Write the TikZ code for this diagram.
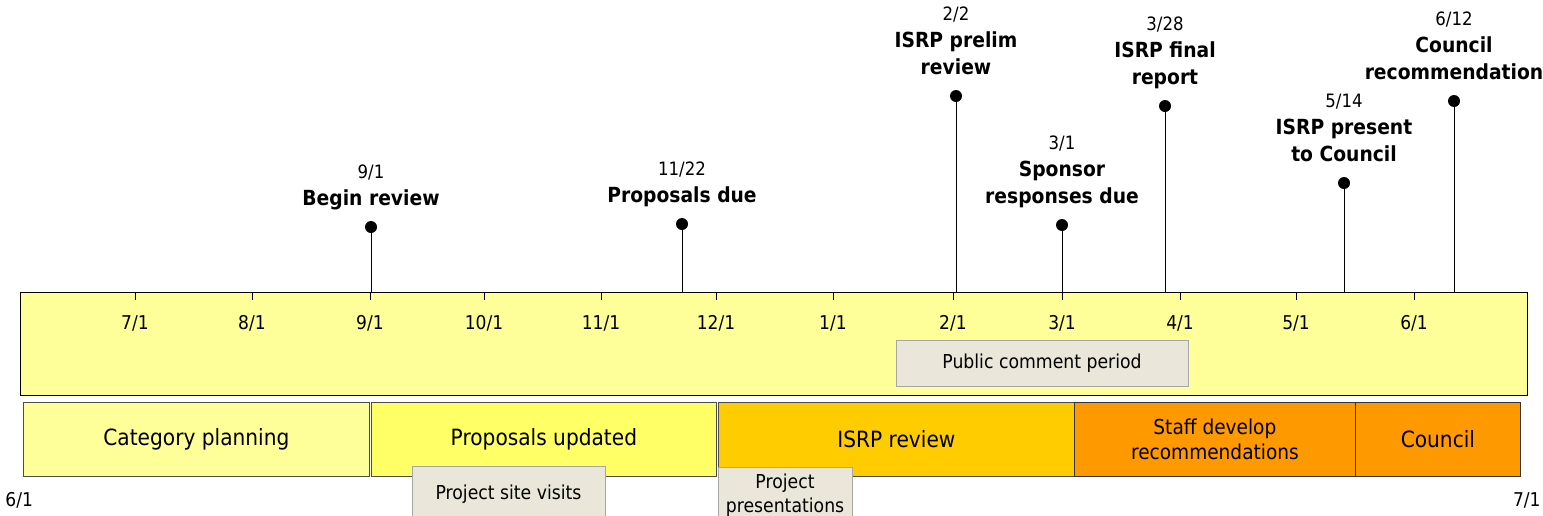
\documentclass[tikz,border=0pt]{standalone}
\usepackage{fontspec}
\setmainfont[FakeStretch=0.9]{DejaVu Sans}
\usetikzlibrary{positioning}

\definecolor{lightyel}{HTML}{FFFF99}
\definecolor{brightyel}{HTML}{FFFF66}
\definecolor{goldyel}{HTML}{FFCC00}
\definecolor{deeporange}{HTML}{FF9900}
\definecolor{notegray}{HTML}{EAE7DA}

\tikzset{
  month/.style={font=\fontsize{9.5}{11}\selectfont, inner sep=0pt},
  milestone/.style={align=center, inner sep=0pt, text depth=0pt,
    font=\fontsize{10.4}{13.5}\selectfont\bfseries},
  dot/.style={circle, fill=black, inner sep=0pt, minimum size=6pt},
  stage/.style={draw=gray!60!black, minimum height=37pt, inner sep=0pt,
    align=center, anchor=west, font=\fontsize{11.2}{13}\selectfont},
  note/.style={draw=gray!70, fill=notegray, inner sep=0pt, align=center,
    font=\fontsize{9.6}{12}\selectfont},
}
\newcommand{\when}[1]{{\mdseries\fontsize{9.2}{13.5}\selectfont #1}}

\begin{document}
\begin{tikzpicture}[x=0.5pt, y=-0.5pt]
  \useasboundingbox (0,0) rectangle (1543,515);

  % the year bar
  \node[draw=black, semithick, fill=lightyel, minimum width=753.5pt, minimum height=51.5pt,
    inner sep=0pt, anchor=north west] (bar) at (20,292) {};
  \foreach \x/\m in {135/7, 252/8, 370/9, 484/10, 601/11, 716/12,
                     833/1, 953/2, 1062/3, 1180/4, 1296/5, 1414/6}
  {
    \node[month] (mo\m) at (\x,323) {\m/1};
    \draw (bar.north -| mo\m) -- ++(0,8);
  }
  \node[month, anchor=west] (start) at (5,500) {6/1};
  \node[month, anchor=east] (end) at (1541,500) {7/1};

  % milestones
  \foreach \n/\x/\y/\txt in {
      1/371/227/{\when{9/1}\\Begin review},
      2/682/224/{\when{11/22}\\Proposals due},
      3/956/96/{\when{2/2}\\ISRP prelim\\review},
      4/1062/225/{\when{3/1}\\Sponsor\\responses due},
      5/1165/106/{\when{3/28}\\ISRP final\\report},
      6/1344/183/{\when{5/14}\\ISRP present\\to Council},
      7/1454/101/{\when{6/12}\\Council\\recommendation}}
  {
    \node[dot] (d\n) at (\x,\y) {};
    \node[milestone, above=7.5pt of d\n] (ms\n) {\txt};
    \draw (d\n) -- (d\n |- bar.north);
  }

  % stages
  \node[stage, fill=lightyel, minimum width=173pt] (plan) at (23,439) {Category planning};
  \node[stage, fill=brightyel, minimum width=172.5pt] (upd) at (371,439) {Proposals updated};
  \node[stage, fill=goldyel, minimum width=178pt] (isrp) at (718,439) {ISRP review};
  \node[stage, fill=deeporange, minimum width=140.5pt, draw=black!80,
    font=\fontsize{10.3}{12.5}\selectfont] (staff) at (1074,439) {Staff develop\\recommendations};
  \node[stage, fill=deeporange, minimum width=82.5pt, draw=black!80] (council) at (1355,439) {Council};

  % notes
  \node[note, minimum width=146pt, minimum height=23pt] (comment) at (1042,363) {Public comment period};
  \node[note, minimum width=96.5pt, minimum height=28pt] (visits) at (508.5,494) {Project site visits};
  \node[note, minimum width=67pt, minimum height=28pt] (pres) at (785,495) {Project\\presentations};
\end{tikzpicture}
\end{document}
